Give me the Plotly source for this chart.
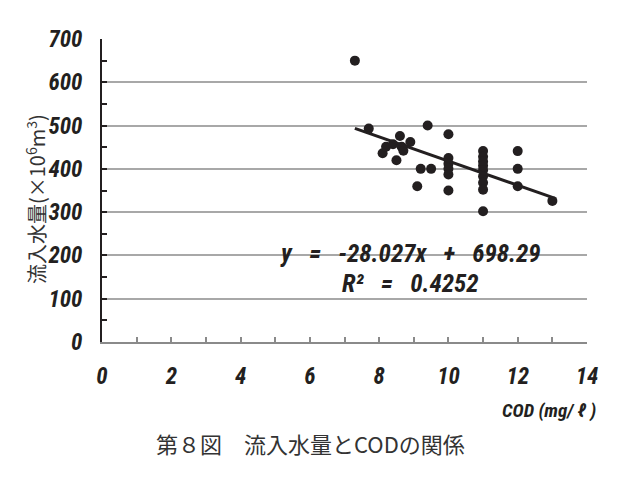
import plotly.graph_objects as go

# ---- data ----
cod = [7.3, 7.7, 8.1, 8.2, 8.4, 8.5, 8.6, 8.65, 8.7, 8.9, 9.1, 9.2, 9.4, 9.5,
       10, 10, 10, 10, 10, 10,
       11, 11, 11, 11, 11, 11, 11, 11, 11,
       12, 12, 12, 13]
flow = [650, 493, 436, 451, 457, 420, 476, 451, 442, 462, 360, 400, 500, 400,
        480, 425, 412, 400, 387, 350,
        441, 428, 417, 407, 397, 383, 368, 352, 302,
        441, 400, 360, 326]
slope = -28.027
intercept = 698.29
r2 = 0.4252
x_ticks = [0, 2, 4, 6, 8, 10, 12, 14]
y_ticks = [0, 100, 200, 300, 400, 500, 600, 700]

W, H = 620, 479
OFF = 8  # page body margin offset
# plot area in page pixels: left 102, right 587, top 39, bottom 342
L, T = 102 - OFF, 39 - OFF
R = W - (587 - OFF)
B = H - (342 - OFF)
PW, PH = W - L - R, H - T - B

def px(xp):
    return (xp - OFF - L) / PW

def py(yp):
    return (H - B - (yp - OFF)) / PH

ink = "#231f20"
NUM_FAM = "Liberation Sans Narrow, Roboto Condensed, Roboto, DejaVu Sans"
num_font = dict(family=NUM_FAM, size=23, color=ink, weight="bold", style="italic")

fig = go.Figure()
fig.add_trace(go.Scatter(x=cod, y=flow, mode="markers",
                         marker=dict(size=10, color=ink), showlegend=False,
                         cliponaxis=False))
x0, x1 = min(cod), max(cod)
fig.add_trace(go.Scatter(x=[x0, x1], y=[slope * x0 + intercept, slope * x1 + intercept],
                         mode="lines", line=dict(color=ink, width=3), showlegend=False))

fig.update_layout(
    width=W, height=H,
    margin=dict(l=L, r=R, t=T, b=B),
    paper_bgcolor="white", plot_bgcolor="white",
    xaxis=dict(range=[0, 14], tickvals=x_ticks, ticktext=[str(v) for v in x_ticks],
               showgrid=False, zeroline=False,
               showline=True, linecolor="#8a8a8a", linewidth=2,
               ticks="inside", ticklen=5, tickcolor="#8a8a8a", tickwidth=1.5,
               minor=dict(dtick=1, ticks="inside", ticklen=5, tickcolor="#8a8a8a", tickwidth=1.5),
               tickfont=num_font, ticklabelstandoff=12),
    yaxis=dict(range=[0, 700], tickvals=y_ticks, ticktext=[str(v) for v in y_ticks],
               showgrid=True, gridcolor="#a8a8a8", gridwidth=1.5, zeroline=False,
               showline=True, linecolor=ink, linewidth=2,
               ticks="inside", ticklen=5, tickcolor=ink, tickwidth=1.5,
               minor=dict(dtick=50, ticks="inside", ticklen=5, tickcolor=ink, tickwidth=1.5,
                          showgrid=False),
               tickfont=num_font, ticklabelstandoff=13),
)

SP = "\u00a0"
eq_font = dict(family=NUM_FAM, size=25, color=ink, weight="bold", style="italic")
fig.add_annotation(x=px(410), y=py(253), xref="paper", yref="paper",
                   xanchor="center", yanchor="middle",
                   text=f"y{SP}{SP} = {SP}{SP}{slope}x{SP}{SP} + {SP}{SP}{intercept}",
                   showarrow=False, font=eq_font)
fig.add_annotation(x=px(410), y=py(283), xref="paper", yref="paper",
                   xanchor="center", yanchor="middle",
                   text=f"R²{SP}{SP} = {SP}{SP}{r2}", showarrow=False, font=eq_font)
fig.add_annotation(x=px(598), y=py(410), xref="paper", yref="paper",
                   xanchor="right", yanchor="middle",
                   text=f"COD{SP}(mg/{SP}ℓ{SP})", showarrow=False,
                   font=dict(family=NUM_FAM, size=19, color=ink, weight="bold", style="italic"))
fig.add_annotation(x=px(36), y=py(199), xref="paper", yref="paper", textangle=-90,
                   xanchor="center", yanchor="middle",
                   text="流入水量(×10<sup>6</sup>m<sup>3</sup>)", showarrow=False,
                   font=dict(family="Noto Sans CJK JP", size=20, color="#333333"))
fig.add_annotation(x=px(310), y=py(443), xref="paper", yref="paper",
                   xanchor="center", yanchor="middle",
                   text="第８図　流入水量とCODの関係", showarrow=False,
                   font=dict(family="Noto Sans CJK JP", size=22, color="#333333"))

fig.write_html("out.html")
